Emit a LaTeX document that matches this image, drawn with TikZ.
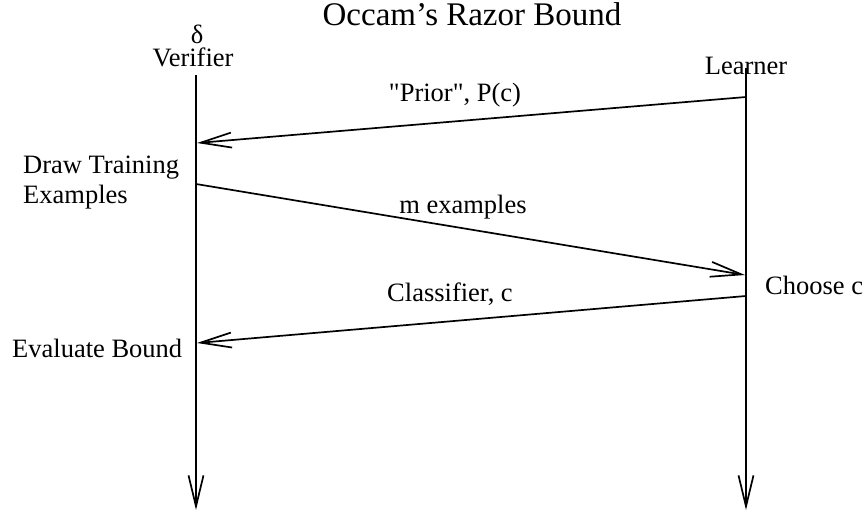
\documentclass[tikz,border=0pt]{standalone}
\usepackage{fontspec}
\setmainfont{Liberation Serif}[Ligatures=TeXOff]
\usetikzlibrary{arrows.meta}
\begin{document}
\begin{tikzpicture}[x=1pt,y=-1pt,
  lbl/.style={font=\fontsize{26.5}{30}\selectfont, inner sep=0pt},
  ttl/.style={font=\fontsize{33}{38}\selectfont, inner sep=0pt},
  life/.style={line width=1.7pt, -{Straight Barb[length=31pt,width=15pt,line width=1.7pt]}},
  msg/.style={line width=1.7pt, -{Straight Barb[length=31pt,width=15pt,line width=1.7pt]}}
]
\useasboundingbox (0,0) rectangle (868,516);
% title
\node[ttl, anchor=base] (title) at (472,26) {Occam’s Razor Bound};
% actors
\node[lbl, anchor=base] (delta) at (197,44) {δ};
\node[lbl, anchor=base] (verifier) at (193,67) {Verifier};
\node[lbl, anchor=base] (learner) at (746,75) {Learner};
% lifelines
\coordinate (vtop) at (196,75);
\coordinate (vbot) at (196,510);
\coordinate (ltop) at (746,68);
\coordinate (lbot) at (746,510);
\draw[life] (vtop) -- (vbot);
\draw[life] (ltop) -- (lbot);
% message endpoints
\coordinate (l1) at (746,97);
\coordinate (v1) at (197,143);
\coordinate (v2) at (196,184);
\coordinate (l2) at (745,275);
\coordinate (l3) at (746,296);
\coordinate (v3) at (197,343);
\draw[msg] (l1) -- (v1);
\draw[msg] (v2) -- (l2);
\draw[msg] (l3) -- (v3);
% message labels
\node[lbl, anchor=base] (m1) at (455,102) {"Prior", P(c)};
\node[lbl, anchor=base] (m2) at (463,214) {m examples};
\node[lbl, anchor=base] (m3) at (450,301) {Classifier, c};
% actions
\node[lbl, anchor=north west, align=left] (draw) at (23,156) {Draw Training\\Examples};
\node[lbl, anchor=base west] (choose) at (765,294) {Choose c};
\node[lbl, anchor=base west] (eval) at (12,357) {Evaluate Bound};
\end{tikzpicture}
\end{document}
